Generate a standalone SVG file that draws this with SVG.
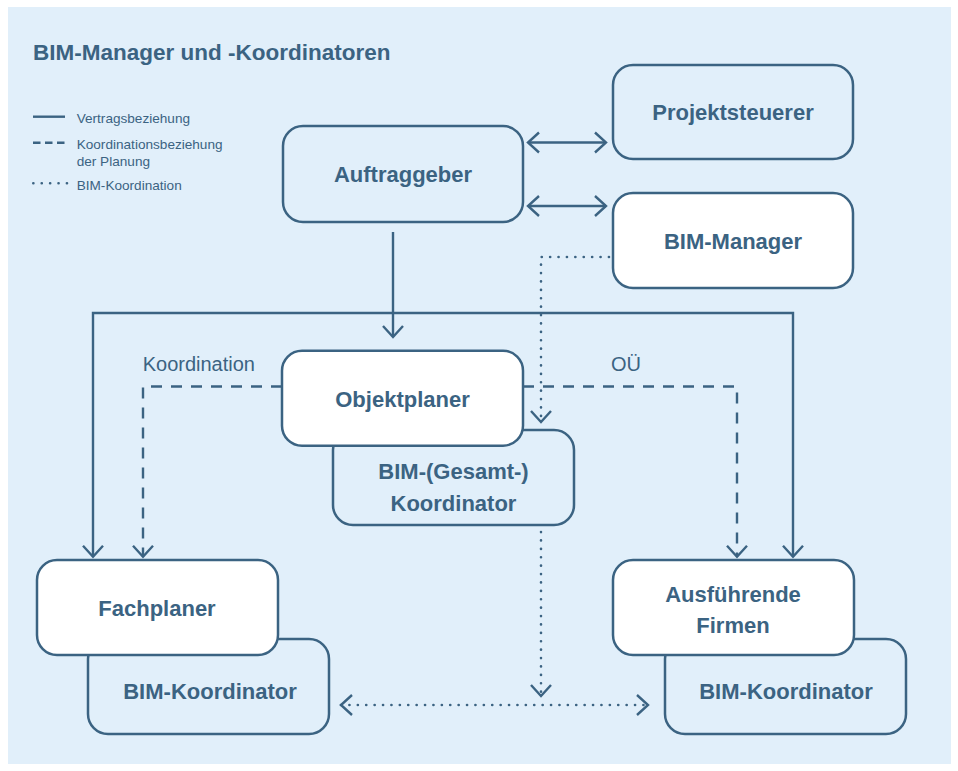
<svg xmlns="http://www.w3.org/2000/svg" width="958" height="771" viewBox="0 0 958 771">
<style>
.bg{fill:#e1effa}
.box{stroke:#3b6382;stroke-width:2.5}
.lt{fill:#e1effa}
.wh{fill:#ffffff}
.lbl{font-family:"Liberation Sans",Arial,sans-serif;font-weight:bold;font-size:22px;fill:#3b6382;text-anchor:middle}
.title{font-family:"Liberation Sans",Arial,sans-serif;font-weight:bold;font-size:22.5px;fill:#3b6382}
.leg{font-family:"Liberation Sans",Arial,sans-serif;font-size:13.6px;fill:#3b6382}
.note{font-family:"Liberation Sans",Arial,sans-serif;font-size:20px;fill:#3b6382}
.ln{fill:none;stroke:#3b6382;stroke-width:2.4}
.solid{}
.dash{stroke-dasharray:11 9}
.dot{stroke-dasharray:0.1 8.3;stroke-linecap:round;stroke-width:2.6}
.arr{marker-end:url(#ah)}
.arr2{marker-start:url(#ah);marker-end:url(#ah)}
</style>
<defs>
<marker id="ah" viewBox="-14 -12 16 24" refX="0" refY="0" markerWidth="16" markerHeight="24" markerUnits="userSpaceOnUse" orient="auto-start-reverse" overflow="visible">
<path d="M-11,-10 L0,0 L-11,10" fill="none" stroke="#3b6382" stroke-width="2.4"/>
</marker>
</defs>
<rect x="0" y="0" width="958" height="771" fill="#ffffff"/>
<rect class="bg" x="8" y="7" width="943" height="757"/>
<text class="title" x="33" y="60">BIM-Manager und -Koordinatoren</text>
<g id="legend">
<line class="ln" x1="33" y1="116.7" x2="65" y2="116.7"/>
<text class="leg" x="76.7" y="123.3">Vertragsbeziehung</text>
<line class="ln" x1="33" y1="142.7" x2="65" y2="142.7" style="stroke-dasharray:7.5 4.5"/>
<text class="leg" x="76.7" y="149.3">Koordinationsbeziehung</text>
<text class="leg" x="76.7" y="166">der Planung</text>
<line class="ln dot" x1="33.3" y1="183.3" x2="67" y2="183.3"/>
<text class="leg" x="76.7" y="190">BIM-Koordination</text>
</g>
<g id="connectors">
<path class="ln arr2" d="M528,142.5 H606"/>
<path class="ln arr2" d="M528,206 H606"/>
<path class="ln arr" d="M393,232 V337"/>
<path class="ln arr2" d="M93,556.7 V313 H793 V556.7"/>
<path class="ln dash arr" d="M282,386.5 H143 V556.7"/>
<path class="ln dash arr" d="M523,386.5 H737 V556.7"/>
<path class="ln dot arr" d="M609,257 H541 V422"/>
<path class="ln dot arr" d="M541,532 V696"/>
<path class="ln dot arr2" d="M341,705 H648"/>
<text class="note" x="142.7" y="370.7">Koordination</text>
<text class="note" x="611" y="370.7">OÜ</text>
</g>
<g id="projektsteuerer">
<rect class="box lt" x="613" y="65" width="240" height="94" rx="20"/>
<text class="lbl" x="733" y="120">Projektsteuerer</text>
</g>
<g id="auftraggeber">
<rect class="box lt" x="283" y="126" width="240" height="96" rx="20"/>
<text class="lbl" x="403" y="182">Auftraggeber</text>
</g>
<g id="bim-manager">
<rect class="box wh" x="613" y="193" width="240" height="95" rx="20"/>
<text class="lbl" x="733" y="249">BIM-Manager</text>
</g>
<g id="bim-gesamtkoordinator">
<rect class="box lt" x="333" y="430" width="241" height="95" rx="20"/>
<text class="lbl" x="453.5" y="479">BIM-(Gesamt-)</text>
<text class="lbl" x="453.5" y="511">Koordinator</text>
</g>
<g id="objektplaner">
<rect class="box wh" x="282" y="350.7" width="241" height="95" rx="20"/>
<text class="lbl" x="402.5" y="407">Objektplaner</text>
</g>
<g id="bim-koordinator-fach">
<rect class="box lt" x="88" y="639" width="241" height="95" rx="20"/>
<text class="lbl" x="210" y="699">BIM-Koordinator</text>
</g>
<g id="fachplaner">
<rect class="box wh" x="37" y="560" width="241" height="95" rx="20"/>
<text class="lbl" x="157" y="616">Fachplaner</text>
</g>
<g id="bim-koordinator-firmen">
<rect class="box lt" x="665" y="639" width="241" height="95" rx="20"/>
<text class="lbl" x="786" y="699">BIM-Koordinator</text>
</g>
<g id="ausfuehrende-firmen">
<rect class="box wh" x="613" y="560" width="241" height="95" rx="20"/>
<text class="lbl" x="733" y="602">Ausführende</text>
<text class="lbl" x="733" y="633">Firmen</text>
</g>
</svg>
